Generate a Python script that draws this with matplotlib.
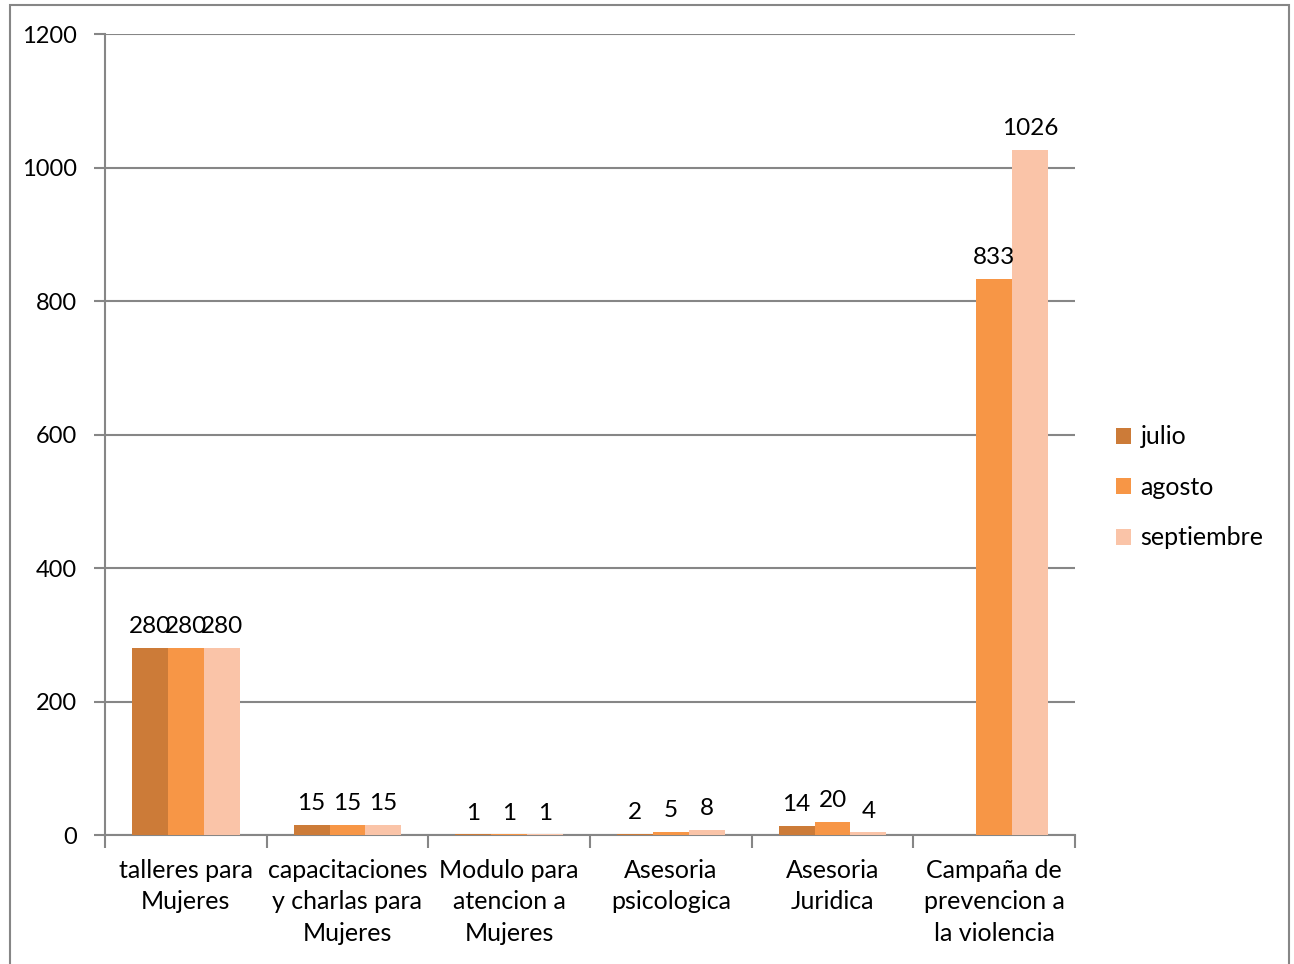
import matplotlib.pyplot as plt
import numpy as np
from matplotlib.patches import Rectangle

categorias = ['talleres para\nMujeres', 'capacitaciones\ny charlas para\nMujeres',
              'Modulo para\natencion a\nMujeres', 'Asesoria\npsicologica',
              'Asesoria\nJuridica', 'Campaña de\nprevencion a\nla violencia']
julio = [280, 15, 1, 2, 14, None]
agosto = [280, 15, 1, 5, 20, 833]
septiembre = [280, 15, 1, 8, 4, 1026]
meses = ['julio', 'agosto', 'septiembre']
colores = ['#CC7B38', '#F79646', '#FAC4A8']

plt.rcParams['font.family'] = ['Lato', 'DejaVu Sans']
fig = plt.figure(figsize=(12.94, 9.64), dpi=100)
ax = fig.add_axes([0.0811, 0.1338, 0.7497, 0.8309])

x = np.arange(len(categorias))
w = 0.222
for i, (serie, col, nom) in enumerate(zip([julio, agosto, septiembre], colores, meses)):
    vals = [np.nan if v is None else v for v in serie]
    bars = ax.bar(x + (i - 1) * w, vals, w, color=col, label=nom, zorder=3)
    for b, v in zip(bars, serie):
        if v is not None:
            ax.text(b.get_x() + b.get_width() / 2, v + 16, str(v),
                    ha='center', va='bottom', fontsize=17.5, zorder=4)

ax.set_xlim(-0.5, len(categorias) - 0.5)
ax.set_ylim(0, 1200)
ax.set_yticks(range(0, 1201, 200))
ax.yaxis.grid(True, color='#868686', linewidth=1.5, zorder=0)
ax.set_xticks(x)
ax.set_xticklabels(categorias, fontsize=18, linespacing=1.45)
ax.tick_params(axis='x', length=0, pad=17)
ax.set_xticks(np.arange(-0.5, len(categorias)), minor=True)
ax.tick_params(axis='x', which='minor', length=9, color='#868686', width=1.5)
ax.tick_params(axis='y', labelsize=17, length=8, color='#868686', width=1.5, pad=12)
for s in ['top', 'right']:
    ax.spines[s].set_visible(False)
for s in ['left', 'bottom']:
    ax.spines[s].set_color('#868686')
    ax.spines[s].set_linewidth(1.5)

ax.legend(loc='center left', bbox_to_anchor=(1.029, 0.434), frameon=False,
          fontsize=18, handlelength=0.6, handleheight=0.6, handletextpad=0.4,
          labelspacing=1.1, borderpad=0)

fig.patches.append(Rectangle((0.008, -0.01), 0.988, 1.005, transform=fig.transFigure,
                             fill=False, edgecolor='#868686', linewidth=1.5))

fig.savefig('out.png', dpi=100)
